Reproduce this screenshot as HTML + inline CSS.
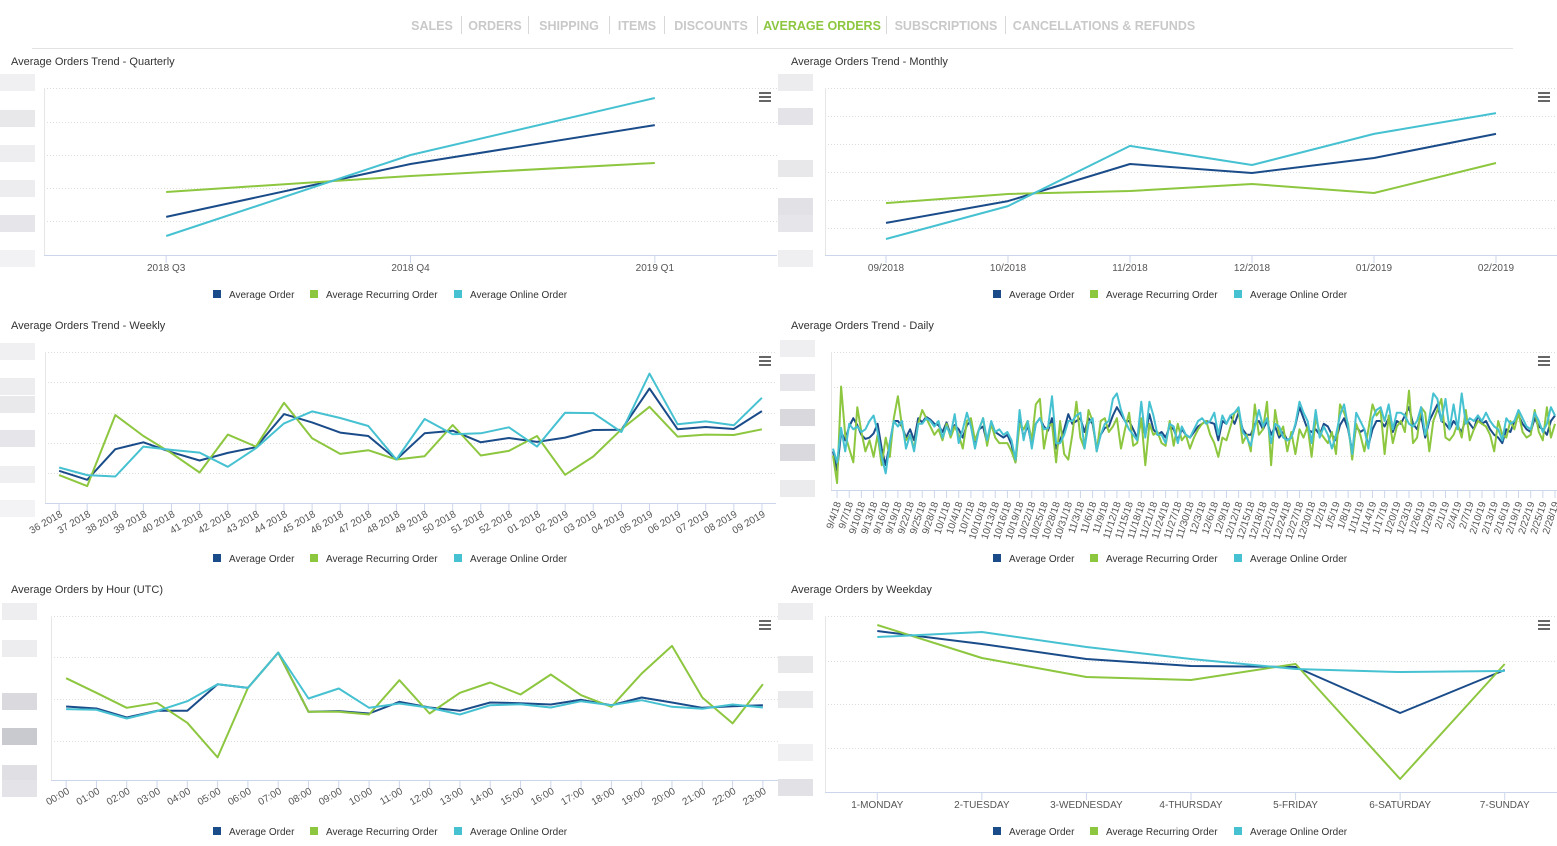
<!DOCTYPE html>
<html><head><meta charset="utf-8">
<style>
html,body{margin:0;padding:0;background:#fff;}
body{width:1557px;height:841px;overflow:hidden;font-family:"Liberation Sans",sans-serif;}
svg text{font-family:"Liberation Sans",sans-serif;}
</style></head>
<body>
<svg id="page" width="1557" height="841" xmlns="http://www.w3.org/2000/svg">
  <g font-size="12.5" font-weight="bold" fill="#c9c9c9" text-anchor="middle">
    <text x="432" y="30">SALES</text>
    <text x="495" y="30">ORDERS</text>
    <text x="569" y="30">SHIPPING</text>
    <text x="637" y="30">ITEMS</text>
    <text x="711" y="30">DISCOUNTS</text>
    <text x="822" y="30" fill="#8dc63f">AVERAGE ORDERS</text>
    <text x="946" y="30">SUBSCRIPTIONS</text>
    <text x="1104" y="30">CANCELLATIONS &amp; REFUNDS</text>
  </g>
  <g stroke="#d8d8d8" stroke-width="1">
    <line x1="461.5" y1="16" x2="461.5" y2="34"/><line x1="528.5" y1="16" x2="528.5" y2="34"/>
    <line x1="609.5" y1="16" x2="609.5" y2="34"/><line x1="664.5" y1="16" x2="664.5" y2="34"/>
    <line x1="757.5" y1="16" x2="757.5" y2="34"/><line x1="886.5" y1="16" x2="886.5" y2="34"/>
    <line x1="1005.5" y1="16" x2="1005.5" y2="34"/>
  </g>
  <line x1="32" y1="48.5" x2="1513" y2="48.5" stroke="#e2e2e2"/>
  <g id="charts"></g>
</svg>
<script>
// ---------- DATA ----------
const quarterCats = ["2018 Q3","2018 Q4","2019 Q1"];
const quarterAvg = [22.8,54.5,77.8];
const quarterRec = [37.7,47.3,55.1];
const quarterOnl = [11.4,59.9,94.0];

const monthCats = ["09/2018","10/2018","11/2018","12/2018","01/2019","02/2019"];
const monthAvg = [19.2,32.3,54.5,49.1,58.1,72.5];
const monthRec = [31.1,36.5,38.3,42.5,37.1,55.1];
const monthOnl = [9.6,29.3,65.3,53.9,72.5,85.0];

const weekCats = ["36 2018","37 2018","38 2018","39 2018","40 2018","41 2018","42 2018","43 2018","44 2018","45 2018","46 2018","47 2018","48 2018","49 2018","50 2018","51 2018","52 2018","01 2018","02 2019","03 2019","04 2019","05 2019","06 2019","07 2019","08 2019","09 2019"];
const weekAvg = [97,70,162,183,153,128,151,168,268,243,212,202,131,210,218,183,196,184,197,220,221,345,222,229,223,277];
const weekRec = [84,51,265,202,150,92,206,170,302,195,148,159,131,141,235,143,157,202,85,140,222,290,200,206,205,222];
const weekOnl = [107,84,80,170,160,152,109,165,240,276,256,232,131,253,207,210,228,170,272,271,214,390,237,246,234,317];

const dayCount = 179;
const dayAvg = [28,14,42,36,46,52,47,40,37,38,41,48,30,18,34,50,50,46,38,44,36,52,49,53,51,48,47,42,49,40,47,44,38,47,50,35,44,46,34,49,42,40,38,40,33,20,53,38,47,32,48,52,46,43,52,30,36,44,55,48,50,52,42,52,48,30,40,45,46,54,60,55,50,50,44,38,50,40,55,44,40,42,38,46,44,36,44,40,38,42,46,48,50,49,48,36,50,48,54,48,56,44,40,40,48,50,44,50,40,46,38,42,36,38,47,60,52,44,42,44,40,48,46,40,36,47,52,44,28,46,42,44,32,44,50,50,46,52,42,50,48,54,60,48,44,54,38,50,56,62,50,48,44,50,46,42,52,48,44,54,48,50,44,40,38,34,44,42,50,54,48,44,42,52,46,44,40,50,54,46,48,52];
const dayRec = [25,5,75,40,30,20,60,42,28,36,24,40,18,38,24,52,68,46,36,40,30,48,58,52,46,40,44,36,48,38,46,40,30,50,52,36,44,52,32,48,38,34,34,34,28,20,48,44,50,36,62,66,30,46,48,20,50,26,22,40,64,38,30,58,50,28,50,52,42,46,52,30,44,56,32,34,52,18,48,40,42,34,32,50,32,48,36,40,30,38,44,48,50,40,34,24,38,36,46,56,58,34,40,28,62,40,44,64,18,58,40,46,28,42,26,44,38,46,24,52,42,38,34,42,26,62,56,48,22,48,40,28,44,62,54,58,26,54,34,46,50,42,72,34,38,60,56,28,50,58,66,38,36,40,48,38,58,36,44,50,48,46,40,28,50,40,38,50,44,56,42,38,40,58,42,36,60,38,48,40,42,44];
const dayOnl = [30,20,45,28,48,44,46,42,44,50,54,42,24,12,34,50,46,50,30,40,28,48,48,52,50,46,50,38,46,40,55,34,44,56,46,30,44,52,36,50,42,44,40,42,36,22,58,36,50,30,48,52,44,45,68,34,34,40,50,50,54,56,30,48,52,28,40,48,50,66,70,58,50,44,40,36,64,38,64,54,40,40,34,48,46,34,46,40,38,44,50,52,48,50,56,40,54,48,54,56,60,42,38,32,46,58,46,52,34,48,46,38,36,38,48,64,56,50,34,58,38,46,40,30,40,54,62,46,26,56,50,44,30,52,58,60,50,62,44,56,56,54,48,46,50,60,40,52,70,66,50,66,44,62,44,70,48,52,50,54,50,56,50,46,44,36,52,48,50,58,52,46,44,56,50,42,48,60,54,46,58,52];
const dayStart = "2018-09-03";

const hourCats = ["00:00","01:00","02:00","03:00","04:00","05:00","06:00","07:00","08:00","09:00","10:00","11:00","12:00","13:00","14:00","15:00","16:00","17:00","18:00","19:00","20:00","21:00","22:00","23:00"];
const hourAvg = [221,215,188,208,208,288,277,383,205,207,200,235,218,208,233,231,227,241,225,248,233,217,222,225];
const hourRec = [306,262,217,232,172,68,277,383,205,205,197,300,200,262,293,257,317,255,220,320,403,248,170,288];
const hourOnl = [213,211,185,207,237,288,277,383,245,275,217,230,217,197,225,228,218,237,225,240,220,214,227,218];

const wdCats = ["1-MONDAY","2-TUESDAY","3-WEDNESDAY","4-THURSDAY","5-FRIDAY","6-SATURDAY","7-SUNDAY"];
const wdAvg = [161,148,133,126,125,79,122];
const wdRec = [167,134,115,112,128,13,128];
const wdOnl = [155,160,145,133,123,120,121];

const seriesNames = ["Average Order","Average Recurring Order","Average Online Order"];
const seriesColors = ["#1b4c8a","#8dc63f","#46c1d1"];

// ---------- DRAWING ----------
const NS = "http://www.w3.org/2000/svg";
const root = document.getElementById("charts");
function mk(tag, attrs, parent){
  const e = document.createElementNS(NS, tag);
  for (const k in attrs) e.setAttribute(k, attrs[k]);
  (parent||root).appendChild(e);
  return e;
}

function dayLabels(n){
  const out = [];
  const d = new Date(dayStart + "T00:00:00Z");
  for (let i=0;i<n;i++){
    const t = new Date(d.getTime() + i*86400000);
    out.push((t.getUTCMonth()+1)+"/"+t.getUTCDate()+"/"+String(t.getUTCFullYear()).slice(2));
  }
  return out;
}

function drawChart(c){
  const g = mk("g", {});
  
  
  const title = mk("text", {x:c.tx, y:c.ty, "font-size":"11", fill:"#333"}, g);
  title.textContent = c.title;
  
  
  c.blurs.forEach(b=>{
    const r = mk("rect", {x:c.bx, y:b[0], width:35, height:17, fill:b[1]}, g);
    
    
  });
  const L=c.left, R=c.right, T=c.top, B=c.bottom;
  const n = c.cats.length;
  const band = (R-L)/n;
  const xOf = i => c.pointMode ? L + 2 + i*(R-L-4)/(n-1) : L + band*(i+0.5);
  const yOf = v => B - (v - c.ymin)/(c.ymax - c.ymin)*(B-T);
  c.grid.forEach(gy=>{
    const ln = mk("line", {x1:L, x2:R, y1:gy+0.5, y2:gy+0.5, stroke:"#dcdcdc", "stroke-dasharray":"1,2"}, g);
    
    
  });
  const yax = mk("line", {x1:L+0.5, x2:L+0.5, y1:T, y2:B, stroke:"#e6e6e6"}, g);
  
  
  const xax = mk("line", {x1:L, x2:R, y1:B+0.5, y2:B+0.5, stroke:"#ccd6eb"}, g);
  
  
  for (let i=0;i<n;i++){
    if (c.labelEvery && i % c.labelEvery !== c.labelOffset) continue;
    const x = xOf(i);
    const tk = mk("line", {x1:x, x2:x, y1:B, y2:B+8, stroke:"#ccd6eb"}, g);
    
    
    let t;
    if (c.rot){
      t = mk("text", {x:x+4, y:B+13, "font-size":"10", fill:"#555", "text-anchor":"end",
        transform:`rotate(${c.rot} ${x+4} ${B+13})`}, g);
    } else {
      t = mk("text", {x:x, y:B+16, "font-size":"10", fill:"#555", "text-anchor":"middle"}, g);
    }
    t.textContent = c.cats[i];
    
    
  }
  c.series.forEach((s, si)=>{
    const vals = s.slice(0, n);
    const pts = vals.map((v,i)=> xOf(i).toFixed(1)+","+yOf(v).toFixed(1)).join(" ");
    const pl = mk("polyline", {points:pts, fill:"none", stroke:seriesColors[si], "stroke-width":"2", "stroke-linejoin":"round"}, g);
    
    
  });
  const menu = mk("g", {}, g);
  
  
  [0,4,8].forEach(d=> mk("rect", {x:c.menuX, y:c.menuY+d, width:12, height:2, fill:"#666"}, menu));
  const lg = mk("g", {}, g);
  
  
  const offs = [[0,16],[97,113],[241,257]];
  seriesNames.forEach((nm, si)=>{
    const e = mk("g", {}, lg);
    
    
    mk("rect", {x:c.lx+offs[si][0], y:c.ly-8, width:8, height:8, fill:seriesColors[si]}, e);
    const tt = mk("text", {x:c.lx+offs[si][1], y:c.ly, "font-size":"10", fill:"#333"}, e);
    tt.textContent = nm;
  });
}

const leftBlur = [[74,"#f0f0f2"],[110,"#e8e8eb"],[145,"#eeeef0"],[180,"#ededf0"],[215,"#e6e6ea"],[250,"#f2f2f4"]];

drawChart({name:"quarterly-chart", title:"Average Orders Trend - Quarterly", tx:11, ty:65, bx:0,
  blurs:leftBlur, left:44, right:777, top:88, bottom:255, ymin:0, ymax:100,
  grid:[88,122,155,188,221], cats:quarterCats, series:[quarterAvg,quarterRec,quarterOnl],
  menuX:759, menuY:92, lx:213, ly:298});

drawChart({name:"monthly-chart", title:"Average Orders Trend - Monthly", tx:791, ty:65, bx:778,
  blurs:[[74,"#ececef"],[108,"#e4e4e8"],[160,"#e8e8eb"],[198,"#e2e2e6"],[215,"#e6e6ea"],[250,"#efeff1"]],
  left:825, right:1557, top:88, bottom:255, ymin:0, ymax:100,
  grid:[88,116,144,172,200,228], cats:monthCats, series:[monthAvg,monthRec,monthOnl],
  menuX:1538, menuY:92, lx:993, ly:298});

drawChart({name:"weekly-chart", title:"Average Orders Trend - Weekly", tx:11, ty:329, bx:0,
  blurs:[[343,"#f0f0f2"],[378,"#ededf0"],[396,"#e9e9ec"],[430,"#e6e6ea"],[466,"#efeff1"],[500,"#f3f3f5"]],
  left:45, right:776, top:352, bottom:503, ymin:0, ymax:455,
  grid:[352,382,413,443,473], cats:weekCats, series:[weekAvg,weekRec,weekOnl], rot:-30,
  menuX:759, menuY:356, lx:213, ly:562});

const dayCats = dayLabels(dayCount);
drawChart({name:"daily-chart", title:"Average Orders Trend - Daily", tx:791, ty:329, bx:780,
  blurs:[[340,"#efeff1"],[374,"#e6e6ea"],[409,"#d8d8dd"],[444,"#d9d9de"],[480,"#ebebee"]],
  left:831, right:1557, top:352, bottom:490, ymin:0, ymax:100, pointMode:true,
  grid:[352,387,421,456], cats:dayCats, series:[dayAvg,dayRec,dayOnl], rot:-72,
  labelEvery:3, labelOffset:1,
  menuX:1538, menuY:356, lx:993, ly:562});

drawChart({name:"hourly-chart", title:"Average Orders by Hour (UTC)", tx:11, ty:593, bx:2,
  blurs:[[603,"#eeeef0"],[640,"#ededf0"],[693,"#d9d9de"],[728,"#c9c9d0"],[765,"#e0e0e4"],[780,"#e4e4e8"]],
  left:51, right:778, top:616, bottom:780, ymin:0, ymax:493,
  grid:[616,657,699,741], cats:hourCats, series:[hourAvg,hourRec,hourOnl], rot:-30,
  menuX:759, menuY:620, lx:213, ly:835});

drawChart({name:"weekday-chart", title:"Average Orders by Weekday", tx:791, ty:593, bx:778,
  blurs:[[603,"#ededf0"],[656,"#e8e8eb"],[691,"#eaeaed"],[744,"#f0f0f2"],[779,"#e2e2e6"]],
  left:825, right:1557, top:616, bottom:792, ymin:0, ymax:176,
  grid:[616,661,704,748], cats:wdCats, series:[wdAvg,wdRec,wdOnl],
  menuX:1538, menuY:620, lx:993, ly:835});
</script>
</body></html>
